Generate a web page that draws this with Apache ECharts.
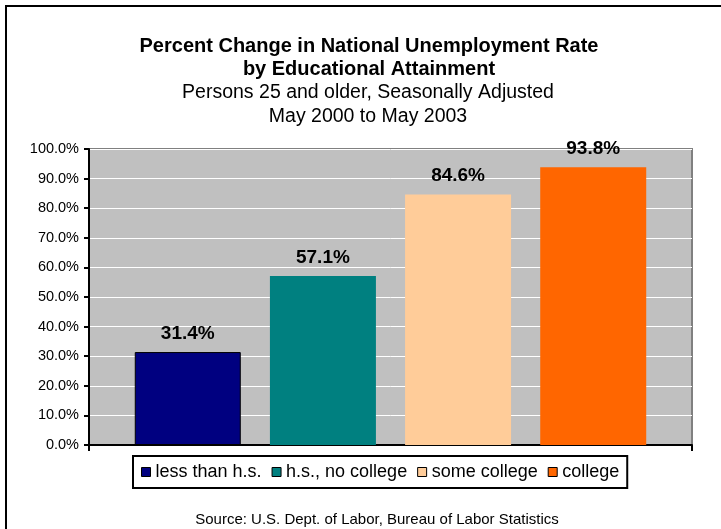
<!DOCTYPE html>
<html lang="en">
<head>
    <meta charset="UTF-8">
    <title>Unemployment by education</title>
    <script src="https://cdn.jsdelivr.net/npm/echarts@6/dist/echarts.min.js"></script>
    <style>
        html, body { margin: 0; padding: 0; background: #fff; }
        #main { width: 721px; height: 529px; }
    </style>
</head>
<body>
    <div id="main"></div>
    <script>
        // data
        var seriesNames = ['less than h.s.', 'h.s., no college', 'some college', 'college']
        var seriesValues = [31.4, 57.1, 84.6, 93.8]
        var seriesColors = ['#000080', '#008080', '#FFCC99', '#FF6600']
        var yTicks = [0, 10, 20, 30, 40, 50, 60, 70, 80, 90, 100]

        var font = '"Liberation Sans", Arial, sans-serif'
        var mCharts = echarts.init(document.getElementById('main'))

        var series = []
        for (var i = 0; i < seriesNames.length; i++) {
            series.push({
                name: seriesNames[i],
                type: 'bar',
                data: [seriesValues[i]],
                barWidth: 106,
                barGap: '27.5%',
                itemStyle: {
                    color: seriesColors[i],
                    borderColor: i === 0 ? '#000' : seriesColors[i],
                    borderWidth: i === 0 ? 1 : 0
                },
                label: {
                    show: true,
                    position: 'top',
                    distance: 9,
                    fontFamily: font,
                    fontSize: 19,
                    fontWeight: 'bold',
                    color: '#000',
                    formatter: function (p) { return p.value.toFixed(1) + '%' }
                }
            })
        }

        var option = {
            animation: false,
            title: [{
                text: 'Percent Change in National Unemployment Rate\nby Educational Attainment',
                left: 364,
                top: 30,
                textAlign: 'center',
                textStyle: { fontFamily: font, fontSize: 20, fontWeight: 'bold', color: '#000', lineHeight: 23 }
            }, {
                text: 'Persons 25 and older, Seasonally Adjusted\nMay 2000 to May 2003',
                left: 363,
                top: 76,
                textAlign: 'center',
                textStyle: { fontFamily: font, fontSize: 19.5, fontWeight: 'normal', color: '#000', lineHeight: 24 }
            }, {
                text: 'Source: U.S. Dept. of Labor, Bureau of Labor Statistics',
                left: 372,
                top: 507,
                textAlign: 'center',
                textStyle: { fontFamily: font, fontSize: 15, fontWeight: 'normal', color: '#000' }
            }],
            legend: {
                data: seriesNames,
                left: 133,
                top: 456,
                orient: 'horizontal',
                icon: 'rect',
                itemWidth: 9,
                itemHeight: 9,
                itemGap: 10,
                padding: [7, 8, 7, 8],
                borderColor: '#000',
                borderWidth: 2,
                textStyle: { fontFamily: font, fontSize: 18, color: '#000' },
                itemStyle: { borderColor: '#000', borderWidth: 1 }
            },
            grid: {
                left: 89,
                right: 29,
                top: 149,
                bottom: 84,
                show: true,
                backgroundColor: '#C0C0C0',
                borderColor: '#808080',
                borderWidth: 2
            },
            xAxis: {
                type: 'category',
                data: [''],
                axisLine: { lineStyle: { color: '#000', width: 2 } },
                axisTick: { show: true, length: 6, lineStyle: { color: '#000', width: 2 } },
                axisLabel: { show: false }
            },
            yAxis: {
                type: 'value',
                min: yTicks[0],
                max: yTicks[yTicks.length - 1],
                interval: 10,
                axisLine: { show: true, lineStyle: { color: '#000', width: 2 } },
                axisTick: { show: true, length: 5, lineStyle: { color: '#000', width: 2 } },
                axisLabel: {
                    fontFamily: font,
                    fontSize: 14.5,
                    color: '#000',
                    margin: 10,
                    formatter: function (v) { return v.toFixed(1) + '%' }
                },
                splitLine: { show: true, lineStyle: { color: '#fff', width: 1 } }
            },
            graphic: [{
                type: 'rect',
                shape: { x: 6, y: 6, width: 800, height: 600 },
                style: { fill: 'none', stroke: '#000', lineWidth: 2 },
                silent: true
            }],
            series: series
        }
        mCharts.setOption(option)
    </script>
</body>
</html>
